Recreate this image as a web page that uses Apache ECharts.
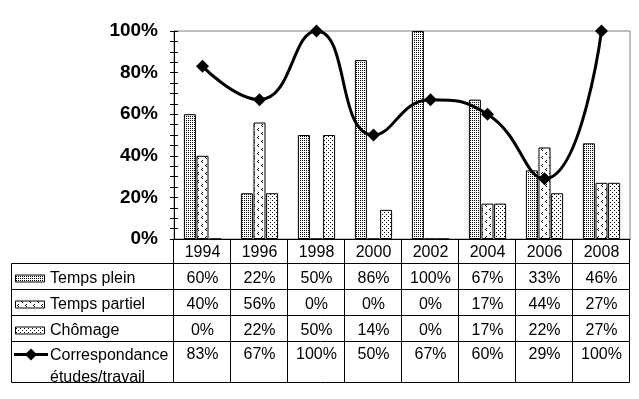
<!DOCTYPE html>
<html>
<head>
<meta charset="utf-8">
<script src="https://cdn.jsdelivr.net/npm/echarts@6/dist/echarts.min.js"></script>
<style>
  html, body { margin: 0; padding: 0; background: #fff; }
  #main { width: 639px; height: 399px; }
</style>
</head>
<body>
<div id="main"></div>
<script>
const years = ['1994', '1996', '1998', '2000', '2002', '2004', '2006', '2008'];
const tempsPlein = [60, 22, 50, 86, 100, 67, 33, 46];
const tempsPartiel = [40, 56, 0, 0, 0, 17, 44, 27];
const chomage = [0, 22, 50, 14, 0, 17, 22, 27];
const correspondance = [83, 67, 100, 50, 67, 60, 29, 100];
const yLabelStep = 20;

const FONT = '"Liberation Sans", Arial, sans-serif';

// small bitmap tiles for the bar fills
function tile(w, h, pts) {
  const c = document.createElement('canvas');
  c.width = w; c.height = h;
  const ctx = c.getContext('2d');
  ctx.fillStyle = '#fff';
  ctx.fillRect(0, 0, w, h);
  ctx.fillStyle = '#000';
  pts.forEach(p => ctx.fillRect(p[0], p[1], 1, 1));
  return c;
}
const pleinFill = { image: tile(2, 2, [[0, 0]]), repeat: 'repeat' };
const partielFill = { image: tile(8, 8, [[2, 0], [1, 1], [2, 2], [6, 4], [5, 5], [6, 6]]), repeat: 'repeat' };
const chomageFill = { image: tile(4, 4, [[0, 0], [2, 2]]), repeat: 'repeat' };

const rows = [
  { name: 'Temps plein', data: tempsPlein, fill: pleinFill },
  { name: 'Temps partiel', data: tempsPartiel, fill: partielFill },
  { name: 'Chômage', data: chomage, fill: chomageFill },
  { name: 'Correspondance\nétudes/travail', data: correspondance, line: true }
];

const chart = echarts.init(document.getElementById('main'), null, { renderer: 'canvas' });

function barSeries(r) {
  return {
    name: r.name,
    type: 'bar',
    data: r.data,
    barWidth: 12,
    barGap: '5%',
    itemStyle: { color: r.fill, borderColor: '#000', borderWidth: 1 }
  };
}

const option = {
  animation: false,
  backgroundColor: '#fff',
  grid: {
    left: 174, right: 9, top: 31, bottom: 160,
    show: true, borderColor: '#808080', borderWidth: 1
  },
  xAxis: {
    type: 'category',
    data: years,
    boundaryGap: true,
    axisLine: { lineStyle: { color: '#000', width: 1 } },
    axisTick: { show: false },
    axisLabel: { margin: 6, color: '#000', fontSize: 16, fontFamily: FONT }
  },
  yAxis: [{
    type: 'value', min: 0, max: 100, interval: 5,
    axisLine: { show: true, lineStyle: { color: '#000' } },
    axisTick: { show: true, length: 4, lineStyle: { color: '#000' } },
    splitLine: { show: false },
    axisLabel: {
      margin: 16, color: '#000', fontSize: 19, fontWeight: 'bold', fontFamily: FONT,
      formatter: v => (v % yLabelStep === 0 ? v + '%' : '')
    }
  }, {
    type: 'value', min: 0, max: 100, interval: 5, position: 'left',
    axisLine: { show: false },
    axisTick: { show: true, inside: true, length: 4, lineStyle: { color: '#000' } },
    splitLine: { show: false },
    axisLabel: { show: false }
  }],
  series: [
    barSeries(rows[0]),
    barSeries(rows[1]),
    barSeries(rows[2]),
    {
      name: 'Correspondance études/travail',
      type: 'line',
      data: correspondance,
      smooth: 0.5,
      z: 5,
      symbol: 'diamond',
      symbolSize: 13,
      lineStyle: { color: '#000', width: 3 },
      itemStyle: { color: '#000' }
    }
  ]
};
chart.setOption(option);

// data table under the plot
const axisY = chart.convertToPixel({ yAxisIndex: 0 }, 0);
const tableLeft = 11.5;
const rowLines = [263.5, 289.5, 315.5, 341.5, 382.5];
const c0 = chart.convertToPixel({ xAxisIndex: 0 }, 0);
const band = chart.convertToPixel({ xAxisIndex: 0 }, 1) - c0;
const tableRight = Math.round(c0 + band * (years.length - 0.5)) - 0.5;
const g = [];
const stroke = { stroke: '#000', lineWidth: 1 };
rowLines.forEach(y => g.push({
  type: 'line', shape: { x1: tableLeft, y1: y, x2: tableRight, y2: y }, style: stroke
}));
g.push({
  type: 'line', shape: { x1: tableLeft, y1: rowLines[0], x2: tableLeft, y2: rowLines[4] }, style: stroke
});
for (let i = 0; i <= years.length; i++) {
  const x = Math.round(c0 + band * (i - 0.5)) - 0.5;
  g.push({
    type: 'line', shape: { x1: x, y1: Math.round(axisY), x2: x, y2: rowLines[4] }, style: stroke
  });
}

rows.forEach((r, ri) => {
  const top = rowLines[ri];
  const cy = r.line ? top + 12 : top + 15;
  // legend key
  if (r.line) {
    g.push({ type: 'line', shape: { x1: 14, y1: cy + 1, x2: 48, y2: cy + 1 }, style: { stroke: '#000', lineWidth: 3 } });
    g.push({ type: 'polygon', shape: { points: [[31, cy - 5], [37, cy + 1], [31, cy + 7], [25, cy + 1]] }, style: { fill: '#000' } });
  } else {
    g.push({ type: 'rect', shape: { x: 15.5, y: cy - 3.5, width: 29, height: 7 }, style: { fill: r.fill, stroke: '#000', lineWidth: 1 } });
  }
  g.push({
    type: 'text', x: 50, y: r.line ? cy - 9 : cy,
    style: {
      text: r.name, fill: '#000', font: '16px ' + FONT,
      verticalAlign: r.line ? 'top' : 'middle', lineHeight: 22
    }
  });
  r.data.forEach((v, i) => {
    const px = chart.convertToPixel({ xAxisIndex: 0 }, i);
    g.push({
      type: 'text', x: px, y: r.line ? cy + 1 : cy,
      style: { text: v + '%', fill: '#000', font: '16px ' + FONT, align: 'center', verticalAlign: 'middle' }
    });
  });
});

chart.setOption({ graphic: g });
</script>
</body>
</html>
